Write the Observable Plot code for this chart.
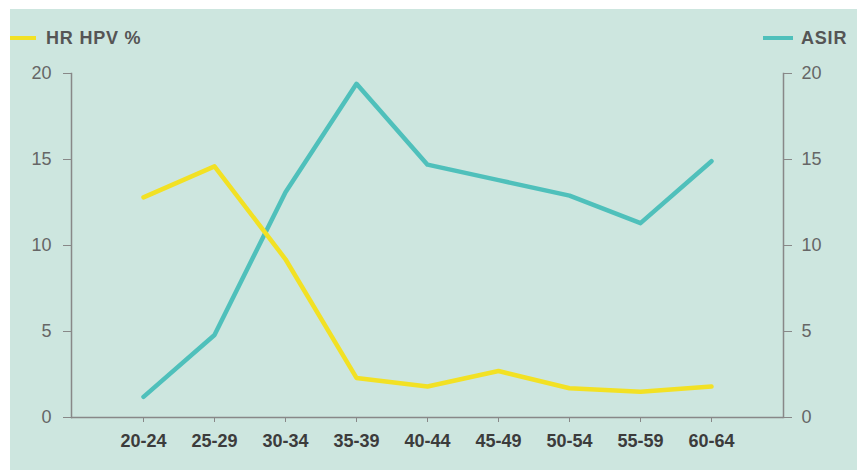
<!DOCTYPE html>
<html><head><meta charset="utf-8">
<script src="https://cdn.jsdelivr.net/npm/d3@7"></script>
<script src="https://cdn.jsdelivr.net/npm/@observablehq/plot@0.6"></script>
<style>
body{margin:0;background:#fff;width:857px;height:470px;overflow:hidden;}
#panel{position:absolute;left:10px;top:9px;width:847px;height:461px;background:#cde6df;font-family:"Liberation Sans",Arial,sans-serif;}
.sw{position:absolute;height:4px;}
.lt{position:absolute;font-size:18px;font-weight:bold;color:#555;line-height:20px;letter-spacing:0.8px;}
#chart{position:absolute;left:0;top:0;}
</style></head>
<body>
<div id="panel">
  <div id="chart"></div>
  <div class="sw" id="sw1" style="left:0;top:27px;width:26px;"></div>
  <div class="lt" id="lt1" style="left:36px;top:19px;"></div>
  <div class="sw" id="sw2" style="left:753px;top:27px;width:30px;"></div>
  <div class="lt" id="lt2" style="left:791px;top:19px;"></div>
</div>
<script>
const ageGroups = ["20-24","25-29","30-34","35-39","40-44","45-49","50-54","55-59","60-64"];
const hpvValues = [12.8, 14.6, 9.2, 2.3, 1.8, 2.7, 1.7, 1.5, 1.8];
const asirValues = [1.2, 4.8, 13.1, 19.4, 14.7, 13.8, 12.9, 11.3, 14.9];
const yTicks = [0, 5, 10, 15, 20];
const seriesNames = ["HR HPV %", "ASIR"];
const seriesColors = ["#f2e124", "#4fc0bb"];

const rows = ageGroups.map((g, i) => ({age: g, hpv: hpvValues[i], asir: asirValues[i]}));

document.getElementById("sw1").style.background = seriesColors[0];
document.getElementById("sw2").style.background = seriesColors[1];
document.getElementById("lt1").textContent = seriesNames[0];
document.getElementById("lt2").textContent = seriesNames[1];

const chart = Plot.plot({
  width: 847,
  height: 461,
  marginLeft: 61,
  marginRight: 74,
  marginTop: 64,
  marginBottom: 53,
  style: {background: "transparent", fontFamily: "'Liberation Sans', Arial, sans-serif", overflow: "visible"},
  x: {type: "point", domain: ageGroups, padding: 1, align: 0.5},
  y: {domain: [0, 20]},
  marks: [
    Plot.frame({anchor: "left", stroke: "#888", strokeWidth: 1.5}),
    Plot.frame({anchor: "right", stroke: "#888", strokeWidth: 1.5}),
    Plot.ruleY([0], {stroke: "#888", strokeWidth: 1.5}),
    Plot.axisY({anchor: "left", ticks: yTicks, tickSize: 8, tickPadding: 12, fontSize: 18, stroke: "#888", fill: "#666", label: null, tickFormat: d => d}),
    Plot.axisY({anchor: "right", ticks: yTicks, tickSize: 8, tickPadding: 10, fontSize: 18, stroke: "#888", fill: "#666", label: null, tickFormat: d => d}),
    Plot.axisX({tickSize: 5, tickPadding: 12, fontSize: 18, fontWeight: "bold", stroke: "#888", fill: "#3c3c3c", label: null}),
    Plot.line(rows, {x: "age", y: "asir", stroke: seriesColors[1], strokeWidth: 4.5}),
    Plot.line(rows, {x: "age", y: "hpv", stroke: seriesColors[0], strokeWidth: 4.5})
  ]
});
document.getElementById("chart").appendChild(chart);
</script>
</body></html>
